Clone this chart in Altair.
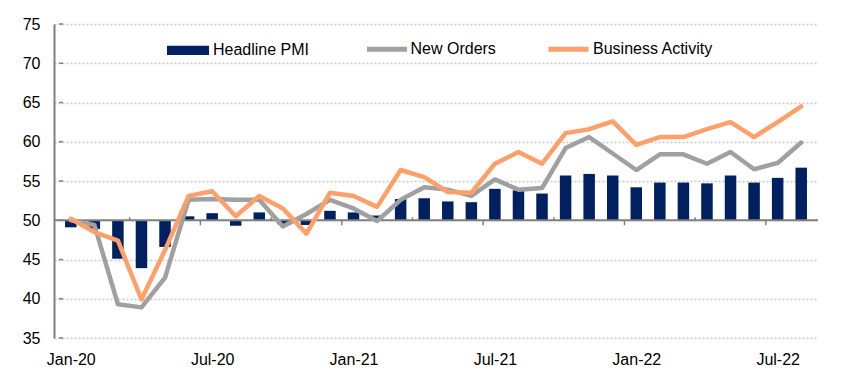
import json
import altair as alt
import pandas as pd

# ---- data ----
months = ["Jan-20", "Feb-20", "Mar-20", "Apr-20", "May-20", "Jun-20", "Jul-20", "Aug-20",
          "Sep-20", "Oct-20", "Nov-20", "Dec-20", "Jan-21", "Feb-21", "Mar-21", "Apr-21",
          "May-21", "Jun-21", "Jul-21", "Aug-21", "Sep-21", "Oct-21", "Nov-21", "Dec-21",
          "Jan-22", "Feb-22", "Mar-22", "Apr-22", "May-22", "Jun-22", "Jul-22", "Aug-22"]
headline_pmi = [49.1, 48.9, 45.1, 43.9, 46.6, 50.5, 50.9, 49.3, 51.0, 49.5, 49.4, 51.2,
                51.0, 50.6, 52.7, 52.8, 52.4, 52.3, 54.0, 53.8, 53.4, 55.7, 55.9, 55.7,
                54.2, 54.8, 54.8, 54.7, 55.7, 54.8, 55.4, 56.7]
new_orders = [50.0, 49.4, 39.3, 38.9, 42.7, 52.6, 52.7, 52.6, 52.6, 49.2, 50.8, 52.6,
              51.5, 49.9, 52.6, 54.2, 53.9, 53.1, 55.2, 53.9, 54.1, 59.2, 60.6, 58.5,
              56.4, 58.4, 58.4, 57.2, 58.7, 56.5, 57.3, 59.9]
business_activity = [50.2, 48.5, 47.4, 39.9, 46.2, 53.1, 53.7, 50.5, 53.1, 51.5, 48.3, 53.5,
                     53.1, 51.7, 56.4, 55.5, 53.6, 53.5, 57.2, 58.7, 57.2, 61.1, 61.6, 62.6,
                     59.6, 60.6, 60.6, 61.6, 62.5, 60.6, 62.5, 64.5]
y_ticks = [35, 40, 45, 50, 55, 60, 65, 70, 75]
x_label_months = ["Jan-20", "Jul-20", "Jan-21", "Jul-21", "Jan-22", "Jul-22"]
bar_series = ["Headline PMI"]
line_series = ["New Orders", "Business Activity"]

# ---- styling ----
FONT = "Liberation Sans"
NAVY = "#002060"
GRAY = "#A0A0A0"
ORANGE = "#FFA06A"
AXIS_GRAY = "#808080"
BASE = 50

n = len(months)
df = pd.DataFrame({
    "month": months,
    "pos": [i + 0.5 for i in range(n)],
    "pmi": headline_pmi,
    "bar_series": [bar_series[0]] * n,
})
orders_df = pd.DataFrame({"pos": df["pos"], "value": new_orders, "series": line_series[0]})
activity_df = pd.DataFrame({"pos": df["pos"], "value": business_activity, "series": line_series[1]})

major_ticks = pd.DataFrame({"pos": [i for i in range(1, n) if i % 6 == 0]})
minor_ticks = pd.DataFrame({"pos": [i for i in range(1, n) if i % 6 == 3]})
ytick_df = pd.DataFrame({"y": y_ticks})
zero_df = pd.DataFrame({"y": [BASE]})

x_scale = alt.Scale(domain=[0, n], nice=False, zero=False)
y_scale = alt.Scale(domain=[35, 75], nice=False, zero=False)

x_axis = alt.Axis(
    values=[months.index(m) + 0.5 for m in x_label_months],
    labelExpr=json.dumps(months) + "[floor(datum.value)]",
    tickCount=n,
    title=None, domain=False, ticks=False, grid=False,
    labelFont=FONT, labelFontSize=16, labelColor="#000000", labelPadding=13,
    labelFlush=False, labelOverlap=False,
)
y_axis = alt.Axis(
    values=y_ticks, tickCount=len(y_ticks) + 2,
    title=None, grid=True, gridDash=[2, 2], gridColor="#C8C8C8",
    gridWidth=1.3, domain=True, domainColor=AXIS_GRAY, domainWidth=2, ticks=False,
    labelFont=FONT, labelFontSize=16, labelColor="#000000", labelPadding=14,
    labelOverlap=False, labelFlush=False,
)

X = alt.X("pos:Q", scale=x_scale, axis=x_axis)


def legend(x, y, offset, path, size, sw):
    return alt.Legend(
        orient="none", legendX=x, legendY=y, title=None, padding=0,
        symbolType=path, symbolSize=size, symbolStrokeWidth=sw,
        labelFont=FONT, labelFontSize=16, labelColor="#000000", labelOffset=offset,
    )


bars = alt.Chart(df).mark_bar(size=11.5).encode(
    x=X,
    y=alt.Y("pmi:Q", scale=y_scale, axis=y_axis),
    y2=alt.datum(BASE),
    fill=alt.Fill(
        "bar_series:N",
        scale=alt.Scale(domain=bar_series, range=[NAVY]),
        legend=legend(113, 5.3, 4, "M-1,-0.22H1V0.22H-1Z", 1764, 0),
    ),
)

zero_line = alt.Chart(zero_df).mark_rule(color=AXIS_GRAY, strokeWidth=2).encode(
    y=alt.Y("y:Q", scale=y_scale, axis=y_axis)
)

major = alt.Chart(major_ticks).mark_rule(color=AXIS_GRAY, strokeWidth=1.5, y2Offset=5).encode(
    x=X, y=alt.datum(BASE), y2=alt.datum(BASE)
)
minor = alt.Chart(minor_ticks).mark_rule(color=AXIS_GRAY, strokeWidth=1.5, y2Offset=-3).encode(
    x=X, y=alt.datum(BASE), y2=alt.datum(BASE)
)
yticks = alt.Chart(ytick_df).mark_rule(color=AXIS_GRAY, strokeWidth=1.5, x2Offset=4).encode(
    y=alt.Y("y:Q", scale=y_scale, axis=y_axis), x=alt.datum(0), x2=alt.datum(0)
)

line_mark = dict(strokeWidth=4.5, strokeCap="round", strokeJoin="round")

orders_line = alt.Chart(orders_df).mark_line(**line_mark).encode(
    x=X,
    y=alt.Y("value:Q", scale=y_scale, axis=y_axis),
    stroke=alt.Stroke(
        "series:N",
        scale=alt.Scale(domain=[line_series[0]], range=[GRAY]),
        legend=legend(310.5, 2.8, 1, "M-1,0H1", 1600, 5),
    ),
    order=alt.Order("pos:Q"),
)

activity_line = alt.Chart(activity_df).mark_line(**line_mark).encode(
    x=X,
    y=alt.Y("value:Q", scale=y_scale, axis=y_axis),
    color=alt.Color(
        "series:N",
        scale=alt.Scale(domain=[line_series[1]], range=[ORANGE]),
        legend=legend(492, 2.8, 2, "M-1,0H1", 1600, 5),
    ),
    order=alt.Order("pos:Q"),
)

chart = alt.layer(
    bars, zero_line, major, minor, yticks, orders_line, activity_line
).properties(
    width=764, height=314,
    padding={"left": 54, "top": 24, "right": 37, "bottom": 37},
    autosize=alt.AutoSizeParams(type="none"),
    background="white",
).configure_view(stroke=None)

chart.save("out.html", embed_options={"renderer": "svg", "actions": False})
